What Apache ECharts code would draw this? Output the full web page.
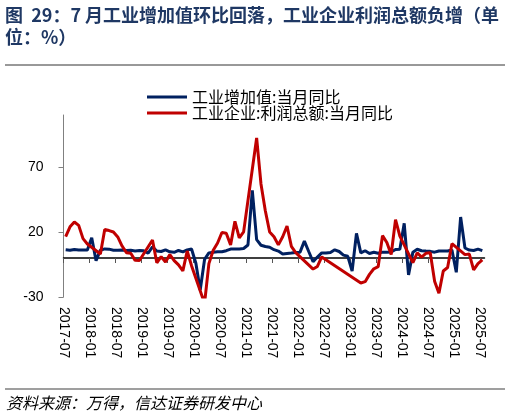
<!DOCTYPE html>
<html>
<head>
<meta charset="utf-8">
<script src="https://cdn.jsdelivr.net/npm/echarts@6/dist/echarts.min.js"></script>
<style>
html,body{margin:0;padding:0;background:#fff;}
#c{width:510px;height:418px;}
</style>
</head>
<body>
<div id="c"></div>
<script>
// ---- data ----
const months = [
'2017-07','2017-08','2017-09','2017-10','2017-11','2017-12',
'2018-01','2018-02','2018-03','2018-04','2018-05','2018-06','2018-07','2018-08','2018-09','2018-10','2018-11','2018-12',
'2019-01','2019-02','2019-03','2019-04','2019-05','2019-06','2019-07','2019-08','2019-09','2019-10','2019-11','2019-12',
'2020-01','2020-02','2020-03','2020-04','2020-05','2020-06','2020-07','2020-08','2020-09','2020-10','2020-11','2020-12',
'2021-01','2021-02','2021-03','2021-04','2021-05','2021-06','2021-07','2021-08','2021-09','2021-10','2021-11','2021-12',
'2022-01','2022-02','2022-03','2022-04','2022-05','2022-06','2022-07','2022-08','2022-09','2022-10','2022-11','2022-12',
'2023-01','2023-02','2023-03','2023-04','2023-05','2023-06','2023-07','2023-08','2023-09','2023-10','2023-11','2023-12',
'2024-01','2024-02','2024-03','2024-04','2024-05','2024-06','2024-07','2024-08','2024-09','2024-10','2024-11','2024-12',
'2025-01','2025-02','2025-03','2025-04','2025-05','2025-06','2025-07'
];
const axisEndMonth = ['2025-08'];

const tickLabels = ['2017-07','2018-01','2018-07','2019-01','2019-07','2020-01','2020-07','2021-01','2021-07',
  '2022-01','2022-07','2023-01','2023-07','2024-01','2024-07','2025-01','2025-07'];

const yTicks = [-30, 20, 70];

// 工业增加值:当月同比
const ivaYoY = [
6.4, 6.0, 6.6, 6.2, 6.1, 6.2,
15.6, -2.0, 6.0, 7.0, 6.8, 6.0, 6.0, 6.1, 5.8, 5.9, 5.4, 5.7,
5.5, 3.8, 8.5, 5.4, 5.0, 6.3, 4.8, 4.4, 5.8, 4.7, 6.2, 6.9,
-4.0, -24.6, -1.1, 3.9, 4.4, 4.8, 4.8, 5.6, 6.9, 6.9, 7.0, 7.3,
10.0, 52.0, 14.1, 9.8, 8.8, 8.3, 6.4, 5.3, 3.1, 3.5, 3.8, 4.3,
4.5, 13.0, 5.0, -2.9, 0.7, 3.9, 3.8, 4.2, 6.3, 5.0, 2.2, 1.3,
-10.0, 19.0, 3.9, 5.6, 3.5, 4.4, 3.7, 4.5, 4.5, 4.6, 6.6, 6.8,
26.7, -13.0, 4.5, 6.7, 5.6, 5.3, 5.1, 4.5, 5.4, 5.3, 5.4, 6.2,
-11.0, 31.5, 7.7, 6.1, 5.8, 6.8, 5.7
];

// 工业企业:利润总额:当月同比
const profitYoY = [
16.5, 24.0, 27.7, 25.1, 14.9, 10.8,
null, null, 3.1, 21.9, 21.1, 20.0, 16.2, 9.2, 4.1, 3.6, -1.8, -1.9,
null, null, 13.9, -3.7, 1.1, -3.1, 2.6, -2.0, -5.3, -9.9, 5.4, -5.9,
null, null, -34.9, -4.3, 6.0, 11.5, 19.6, 19.1, 10.1, 28.2, 15.5, 20.1,
null, null, 92.3, 57.0, 36.4, 20.0, 16.4, 10.1, 16.3, 24.6, 9.0, 4.2,
null, null, null, -8.5, -6.5, 0.8, null, null, null, null, null, null,
null, null, -19.2, -18.2, -12.6, -8.3, -6.7, 17.2, 11.9, 2.7, 29.5, 16.8,
null, null, -3.5, 4.0, 0.7, 3.6, 4.1, -17.8, -27.1, -10.0, -7.3, 11.0,
null, null, 2.6, 3.0, -9.1, -4.3, -1.5
];

const seriesNames = ['工业增加值:当月同比', '工业企业:利润总额:当月同比'];
const titleText = '图  29：7 月工业增加值环比回落，工业企业利润总额负增（单\n位：%）';
const sourceText = '资料来源：万得，信达证券研发中心';

// ---- chart ----
const axisMonths = months.concat(axisEndMonth);
const CJK = '"Noto Sans CJK SC", "Noto Sans", sans-serif';
const NUM = '"Liberation Sans", Arial, sans-serif';
const isTick = function (idx, val) { return tickLabels.indexOf(val) >= 0; };

const chart = echarts.init(document.getElementById('c'), null, {renderer: 'canvas'});
chart.setOption({
  animation: false,
  backgroundColor: '#fff',
  title: {
    text: titleText,
    left: 5, top: 4, padding: 0,
    textStyle: {fontFamily: CJK, fontSize: 18, fontWeight: 'bold', color: '#1F3864', lineHeight: 22}
  },
  legend: {
    orient: 'vertical', left: 147, top: 89, padding: 0,
    itemWidth: 40, itemHeight: 3, itemGap: 0, icon: 'rect',
    textStyle: {fontFamily: CJK, fontSize: 16, color: '#000', lineHeight: 16},
    data: seriesNames
  },
  grid: {left: 63.5, right: 25.5, top: 115, bottom: 121, containLabel: false, outerBoundsMode: 'none'},
  xAxis: [
    {
      type: 'category', data: axisMonths, boundaryGap: false, position: 'bottom',
      axisLine: {show: false, onZero: false}, axisTick: {show: false},
      axisLabel: {interval: isTick, rotate: -90, margin: 10, fontFamily: NUM, fontSize: 14, color: '#000'},
      splitLine: {show: false}
    },
    {
      type: 'category', data: axisMonths, boundaryGap: false, position: 'top',
      axisLine: {show: true, onZero: true, lineStyle: {color: '#000', width: 1.5}},
      axisTick: {show: true, inside: true, length: 5, interval: isTick, lineStyle: {color: '#555'}},
      axisLabel: {show: false}, splitLine: {show: false}
    },
    {
      type: 'category', data: months, boundaryGap: true, show: false
    }
  ],
  yAxis: {
    type: 'value', min: -30, max: 110, interval: 50,
    axisLine: {show: true, onZero: false, lineStyle: {color: '#808080', width: 1}},
    axisTick: {show: true, length: 5, customValues: yTicks, lineStyle: {color: '#808080'}},
    axisLabel: {customValues: yTicks, margin: 20, fontFamily: NUM, fontSize: 14, color: '#000'},
    splitLine: {show: false}
  },
  series: [
    {
      name: seriesNames[0], type: 'line', xAxisIndex: 2, data: ivaYoY,
      symbol: 'none', lineStyle: {color: '#002060', width: 3}, itemStyle: {color: '#002060'}, z: 3
    },
    {
      name: seriesNames[1], type: 'line', xAxisIndex: 2, data: profitYoY, connectNulls: true,
      symbol: 'none', lineStyle: {color: '#C00000', width: 3}, itemStyle: {color: '#C00000'}, z: 4
    }
  ],
  graphic: [
    {type: 'line', shape: {x1: 5, y1: 65, x2: 505, y2: 65}, style: {stroke: '#333', lineWidth: 1}},
    {type: 'line', shape: {x1: 5, y1: 389, x2: 505, y2: 389}, style: {stroke: '#7f7f7f', lineWidth: 1.5}},
    {type: 'text', left: 6, top: 395, style: {text: sourceText, fontFamily: CJK, fontStyle: 'italic', fontSize: 16, fill: '#000'}}
  ]
});
</script>
</body>
</html>
